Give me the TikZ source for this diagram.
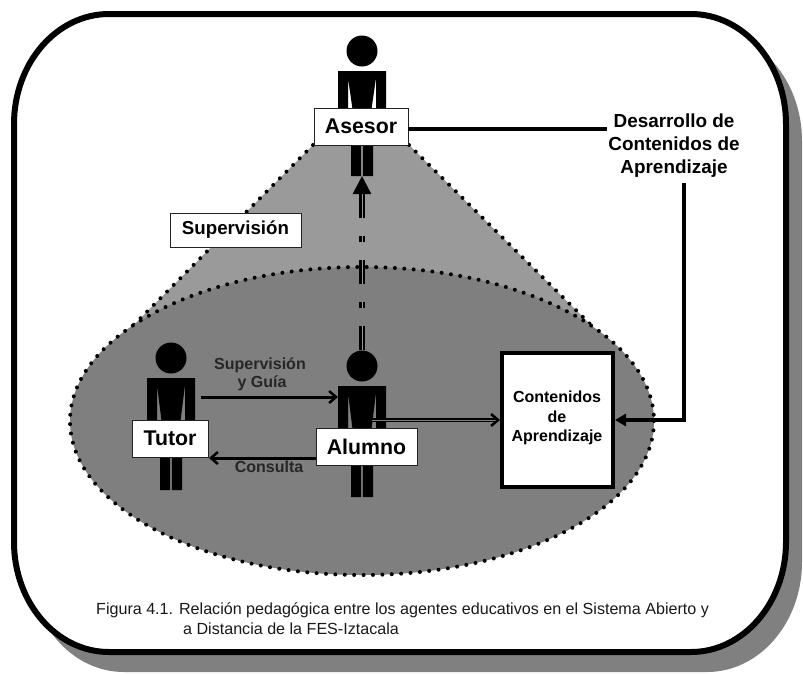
\documentclass[tikz,border=0pt]{standalone}
\usepackage{fontspec}
\setmainfont{Liberation Sans}
\usetikzlibrary{arrows.meta,calc}
\definecolor{shadowgray}{HTML}{808080}
\definecolor{conegray}{HTML}{9A9A9A}
\definecolor{ellipsegray}{HTML}{7F7F7F}
\definecolor{boxedge}{HTML}{222222}
\tikzset{
  dotline/.style={line width=4pt,line cap=round,dash pattern=on 0pt off 9.4pt,black},
  labelbox/.style={draw=boxedge,line width=1pt,fill=white,inner sep=0pt,font=\bfseries\fontsize{21.3}{24}\selectfont},
  smalllabel/.style={inner sep=0pt,font=\bfseries\fontsize{16}{19}\selectfont,text=black!85},
  openarrow/.style={line width=3pt,-{Straight Barb[length=7pt,width=12pt,line width=2.5pt]},black},
  heavyline/.style={line width=4pt,black},
  captiontext/.style={inner sep=0pt,anchor=base west,font=\fontsize{16.1}{18}\selectfont,text=black!90},
}
\newcommand{\framepath}[4]{(#1+95,#2) -- (#3-95,#2) arc[start angle=-90,end angle=0,x radius=95,y radius=110]
  -- (#3,#4-110) arc[start angle=0,end angle=90,x radius=95,y radius=110]
  -- (#1+95,#4) arc[start angle=90,end angle=180,x radius=95,y radius=110]
  -- (#1,#2+110) arc[start angle=180,end angle=270,x radius=95,y radius=110] -- cycle}
\newcommand{\figura}[5]{% x, head y, box top, leg bottom, name
  \fill[black,even odd rule] (#1-24,#2+20) rectangle (#1+24,#3+1)
    (#1-14,#2+27) -- (#1-14,#3+1) -- (#1-9.5,#3+1) -- cycle
    (#1+14,#2+27) -- (#1+14,#3+1) -- (#1+9.5,#3+1) -- cycle;
  \fill[black] (#1-11,#3) rectangle (#1-0.8,#4) (#1+0.8,#3) rectangle (#1+11,#4);
  \node[circle,fill=black,inner sep=0pt,minimum size=31pt] (#5) at (#1,#2) {};
  \coordinate (#5foot) at (#1,#4);
}
\begin{document}
\begin{tikzpicture}[x=1pt,y=-1pt]
\useasboundingbox (0,0) rectangle (803,673);
% shadow and frame
\fill[shadowgray] \framepath{29}{31}{802}{672};
\draw[line width=6pt,black,fill=white] \framepath{14}{14}{786}{652};
% cone and ellipse
\fill[conegray] (313,145) -- (409,145) -- (592,326) -- (83,376) -- cycle;
\draw[dotline] (313,145) -- (83,376);
\draw[dotline] (409,145) -- (592,326);
\fill[ellipsegray] (362,421) ellipse [x radius=292,y radius=154];
\draw[dotline] (362,421) ellipse [x radius=292,y radius=154];
% figures
\figura{362}{51}{108}{176}{asesorfig}
\figura{171}{358}{420}{490}{tutorfig}
\figura{362}{366}{428}{497}{alumnofig}
% boxes
\node[labelbox,minimum width=94pt,minimum height=37pt] (asesor) at (361,126.5) {Asesor};
\node[labelbox,minimum width=76pt,minimum height=37pt] (tutor) at (170,438.5) {Tutor};
\node[labelbox,minimum width=101pt,minimum height=37pt] (alumno) at (366.5,446.5) {Alumno};
\node[labelbox,minimum width=131pt,minimum height=34pt,font=\bfseries\fontsize{18.7}{22}\selectfont] (supervision) at (235.5,230) {\raisebox{-2pt}{Supervisión}};
\node[draw=black,line width=4pt,fill=white,minimum width=111pt,minimum height=134pt,inner sep=0pt] (contenidos) at (557.5,420) {};
\node[smalllabel,align=center,text=black,font=\bfseries\fontsize{16}{19.7}\selectfont] (contenidostxt) at (557,418) {Contenidos\\de\\Aprendizaje};
\node[inner sep=0pt,align=center,font=\bfseries\fontsize{18.9}{23}\selectfont] (desarrollo) at (674,146) {Desarrollo de\\Contenidos de\\Aprendizaje};
% connector helpers
\coordinate (asesorout) at (408,129);
\coordinate (desarrolloin) at (607,129);
\coordinate (vtop) at (684,183);
\coordinate (alumnoarm) at (372,420);
\coordinate (guiaA) at (201,397);
\coordinate (guiaB) at (338,397);
\coordinate (consA) at (316,458);
\coordinate (consB) at (209,458);
% connectors
\draw[heavyline] (asesorout) -- (desarrolloin);
\draw[heavyline,-{Triangle[length=11pt,width=12pt]}] (vtop) |- (contenidos.east);
\draw[line width=1.7pt,double=ellipsegray,double distance=1pt,black,-{Straight Barb[length=7pt,width=12pt,line width=2.5pt]}] (alumnoarm) -- (contenidos.west);
\draw[line width=2.5pt,double=conegray,double distance=1pt,black,dash pattern=on 24pt off 18pt on 6pt off 18pt,-{Triangle[length=18pt,width=18pt]}] (alumnofig.north) -- (asesorfigfoot);
\draw[openarrow] (guiaA) -- (guiaB);
\draw[openarrow] (consA) -- (consB);
% labels
\node[smalllabel] (lbla) at (260,365) {Supervisión};
\node[smalllabel] (lblb) at (262,383) {y Guía};
\node[smalllabel] (lblc) at (269,467) {Consulta};
\node[captiontext] (capa) at (96,614) {Figura 4.1. Relación pedagógica entre los agentes educativos en el Sistema Abierto y};
\node[captiontext] (capb) at (183,634) {a Distancia de la FES-Iztacala};
\end{tikzpicture}
\end{document}
